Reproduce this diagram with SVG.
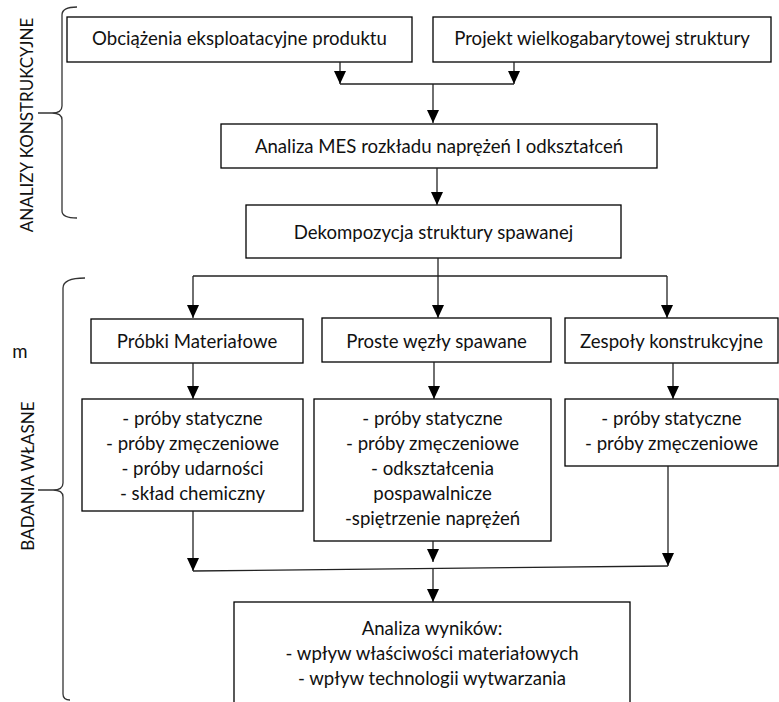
<svg xmlns="http://www.w3.org/2000/svg" width="779" height="702" viewBox="0 0 779 702">
<defs>
<style>
.box{fill:#fff;stroke:#000;stroke-width:1.3}
.ln{fill:none;stroke:#222;stroke-width:1.3}
.br{fill:none;stroke:#333;stroke-width:1.3}
text{font-family:Lato,"Open Sans","Liberation Sans",sans-serif;font-size:18.6px;fill:#111;text-anchor:middle}
.side{font-size:17px}
</style>
<marker id="av" markerUnits="userSpaceOnUse" markerWidth="14" markerHeight="12" refX="13" refY="6" orient="auto" viewBox="0 0 14 12">
<path d="M0,0 L13,6 L0,12 Z" fill="#000"/>
</marker>
</defs>
<rect width="779" height="702" fill="#fff"/>

<g id="brace-top">
<path class="br" d="M77,7 Q62,7 62,15 L62,106 Q62,113 52,113 L38,113 L52,113 Q62,113 62,120 L62,211 Q62,218 77,218"/>
<text class="side" transform="translate(33,125) rotate(-90)">ANALIZY KONSTRUKCYJNE</text>
</g>
<g id="brace-bottom">
<path class="br" d="M85,278 Q63,278 63,288 L63,483 Q63,490 53,490 L38,490 L53,490 Q63,490 63,497 L63,694 Q63,700 70,700"/>
<text class="side" transform="translate(34,476) rotate(-90)">BADANIA WŁASNE</text>
<text x="20" y="358">m</text>
</g>

<g id="n1"><rect class="box" x="67" y="17" width="345" height="45"/><text x="239.5" y="45">Obciążenia eksploatacyjne produktu</text></g>
<g id="n2"><rect class="box" x="433" y="17" width="338" height="45"/><text x="602" y="45">Projekt wielkogabarytowej struktury</text></g>
<g id="n3"><rect class="box" x="221" y="124" width="436" height="44"/><text x="439" y="153">Analiza MES rozkładu naprężeń I odkształceń</text></g>
<g id="n4"><rect class="box" x="246" y="205" width="375" height="53"/><text x="433.5" y="239">Dekompozycja struktury spawanej</text></g>
<g id="n5"><rect class="box" x="91" y="319" width="212" height="44"/><text x="197" y="348">Próbki Materiałowe</text></g>
<g id="n6"><rect class="box" x="322" y="318" width="229" height="44"/><text x="436.5" y="348">Proste węzły spawane</text></g>
<g id="n7"><rect class="box" x="565" y="318" width="213" height="45"/><text x="671.5" y="348">Zespoły konstrukcyjne</text></g>
<g id="n8"><rect class="box" x="82" y="399" width="221" height="112"/>
<text x="192.5" y="425">- próby statyczne</text>
<text x="192.5" y="450">- próby zmęczeniowe</text>
<text x="192.5" y="475">- próby udarności</text>
<text x="192.5" y="500">- skład chemiczny</text></g>
<g id="n9"><rect class="box" x="314" y="399" width="237" height="142"/>
<text x="432.5" y="425">- próby statyczne</text>
<text x="432.5" y="450">- próby zmęczeniowe</text>
<text x="432.5" y="475">- odkształcenia</text>
<text x="432.5" y="500">pospawalnicze</text>
<text x="432.5" y="525">-spiętrzenie naprężeń</text></g>
<g id="n10"><rect class="box" x="565" y="399" width="213" height="67"/>
<text x="671.5" y="425">- próby statyczne</text>
<text x="671.5" y="450">- próby zmęczeniowe</text></g>
<g id="n11"><rect class="box" x="234" y="602" width="396" height="110"/>
<text x="432" y="635">Analiza wyników:</text>
<text x="432" y="660">- wpływ właściwości materiałowych</text>
<text x="432" y="685">- wpływ technologii wytwarzania</text></g>

<g id="connectors">
<path class="ln" d="M340,62 V84" marker-end="url(#av)"/>
<path class="ln" d="M514,62 V84" marker-end="url(#av)"/>
<path class="ln" d="M340,84 H514"/>
<path class="ln" d="M433,84 V123" marker-end="url(#av)"/>
<path class="ln" d="M437,168 V205" marker-end="url(#av)"/>
<path class="ln" d="M438,258 V276"/>
<path class="ln" d="M193,276 H667"/>
<path class="ln" d="M193,276 V318" marker-end="url(#av)"/>
<path class="ln" d="M438,276 V318" marker-end="url(#av)"/>
<path class="ln" d="M667,276 V318" marker-end="url(#av)"/>
<path class="ln" d="M193,363 V399" marker-end="url(#av)"/>
<path class="ln" d="M434,362 V399" marker-end="url(#av)"/>
<path class="ln" d="M673,363 V399" marker-end="url(#av)"/>
<path class="ln" d="M193,511 V571" marker-end="url(#av)"/>
<path class="ln" d="M433,541 V562" marker-end="url(#av)"/>
<path class="ln" d="M668,466 V566" marker-end="url(#av)"/>
<path class="ln" d="M193,571 L668,566"/>
<path class="ln" d="M433,568 V602" marker-end="url(#av)"/>
</g>
</svg>
